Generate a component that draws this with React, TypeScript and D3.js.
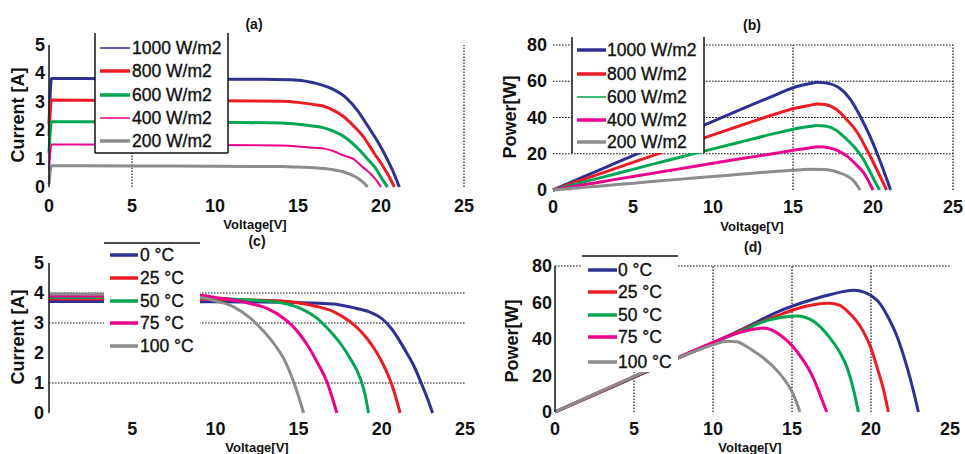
import React from "react";
import * as d3 from "d3";

type Pt = [number, number];

// ---------- labels / ticks ----------
const irradianceLabels = ["1000 W/m2", "800 W/m2", "600 W/m2", "400 W/m2", "200 W/m2"];
const temperatureLabels = ["0 °C", "25 °C", "50 °C", "75 °C", "100 °C"];
const seriesColors = ["#2e3192", "#ed1c24", "#00a651", "#ec008c", "#8c8c8c"];
const voltageTicks = [0, 5, 10, 15, 20, 25];
const voltageTicksC = [5, 10, 15, 20, 25];
const currentTicks = [0, 1, 2, 3, 4, 5];
const powerTicks = [0, 20, 40, 60, 80];

// ---------- (a) I-V vs irradiance : [V, A] ----------
const ivG1000: Pt[] = [[0, 2.2], [0.15, 3.82], [5, 3.81], [10, 3.8], [13, 3.79], [15, 3.76], [16, 3.66], [17, 3.47], [17.9, 3.14], [18.6, 2.68], [19.2, 2.15], [19.8, 1.6], [20.4, 0.95], [20.8, 0.45], [21.1, 0]];
const ivG800: Pt[] = [[0, 1.8], [0.15, 3.06], [5, 3.05], [10, 3.04], [14, 3.02], [15, 2.98], [16, 2.9], [16.5, 2.85], [17.2, 2.68], [17.7, 2.5], [18.4, 2.12], [18.9, 1.8], [19.6, 1.18], [20.1, 0.75], [20.5, 0.35], [20.8, 0]];
const ivG600: Pt[] = [[0, 1.2], [0.15, 2.3], [5, 2.29], [10, 2.28], [14, 2.25], [15, 2.21], [16, 2.14], [16.5, 2.09], [17.2, 1.95], [17.7, 1.8], [18.3, 1.53], [18.7, 1.3], [19.2, 0.98], [19.7, 0.64], [20.1, 0.25], [20.4, 0]];
const ivG400: Pt[] = [[0, 0.6], [0.15, 1.5], [5, 1.49], [10, 1.48], [14, 1.46], [15, 1.43], [16, 1.38], [16.5, 1.36], [17.2, 1.25], [17.7, 1.12], [18.35, 0.98], [18.9, 0.7], [19.4, 0.45], [19.7, 0.25], [20, 0]];
const ivG200: Pt[] = [[0, 0.1], [0.15, 0.75], [5, 0.74], [10, 0.73], [14, 0.72], [15, 0.7], [16, 0.68], [17, 0.62], [17.8, 0.52], [18.4, 0.38], [18.9, 0.18], [19.2, 0]];

// ---------- (b) P-V vs irradiance : [V, W] ----------
const pvG1000: Pt[] = [[0, 0], [2, 7.6], [4, 15.2], [6, 22.8], [8, 30.4], [10, 37.9], [12, 45.4], [14, 52.8], [15, 56.4], [16, 58.6], [16.5, 59.4], [17, 59.1], [17.9, 56.3], [18.6, 49.9], [19.2, 40.7], [19.8, 29.8], [20.4, 17], [21.1, 0]];
const pvG800: Pt[] = [[0, 0], [2, 6.1], [4, 12.2], [6, 18.3], [8, 24.3], [10, 30.4], [12, 36.4], [14, 42.2], [15, 44.8], [16, 46.6], [16.5, 47.5], [17, 47.2], [17.7, 44.5], [18.35, 38.9], [19, 32], [19.6, 22.5], [20.2, 12], [20.85, 0]];
const pvG600: Pt[] = [[0, 0], [2, 4.6], [4, 9.1], [6, 13.7], [8, 18.2], [10, 22.7], [12, 27.1], [14, 31.5], [15, 33.5], [16, 35], [16.5, 35.6], [17, 35.3], [17.7, 33], [18.35, 28], [18.9, 23], [19.4, 17], [19.9, 8.5], [20.4, 0]];
const pvG400: Pt[] = [[0, 0], [2, 3], [4, 6], [6, 8.9], [8, 11.8], [10, 14.8], [12, 17.6], [14, 20.4], [15, 21.9], [16, 23.2], [16.6, 23.8], [17.3, 23.2], [18.35, 18.8], [19, 13.5], [19.4, 9.7], [20, 0]];
const pvG200: Pt[] = [[0, 0], [2, 1.5], [4, 3], [6, 4.5], [8, 6], [10, 7.4], [12, 8.9], [14, 10.3], [15, 10.9], [16, 11.4], [17, 11.3], [17.8, 9.8], [18.35, 7.9], [18.8, 5], [19.2, 0]];

// ---------- (c) I-V vs temperature : [V, A] ----------
const ivT0: Pt[] = [[0, 3.72], [5, 3.72], [9, 3.71], [12, 3.7], [15, 3.68], [17.1, 3.63], [18.2, 3.52], [19.1, 3.4], [20.1, 3.1], [20.6, 2.8], [21.1, 2.38], [21.5, 2.0], [21.9, 1.6], [22.5, 0.82], [22.8, 0.4], [23.05, 0]];
const ivT25: Pt[] = [[0, 3.8], [5, 3.8], [9, 3.79], [12, 3.77], [14, 3.73], [15.1, 3.66], [16.1, 3.55], [17.1, 3.38], [18.1, 3.04], [18.6, 2.8], [19.1, 2.49], [19.6, 2.1], [20.1, 1.6], [20.5, 1.1], [20.8, 0.6], [21.1, 0]];
const ivT50: Pt[] = [[0, 3.85], [5, 3.85], [9, 3.84], [11, 3.8], [13, 3.73], [14.1, 3.66], [15.1, 3.49], [16.1, 3.16], [16.6, 2.9], [17.1, 2.6], [17.6, 2.25], [18.1, 1.82], [18.7, 1.16], [19.0, 0.6], [19.2, 0]];
const ivT75: Pt[] = [[0, 3.9], [5, 3.9], [9.2, 3.92], [10, 3.85], [11.1, 3.77], [12.1, 3.65], [13.1, 3.49], [14.1, 3.16], [14.6, 2.92], [15.1, 2.6], [15.6, 2.2], [16.1, 1.71], [16.7, 1.04], [17.0, 0.55], [17.3, 0]];
const ivT100: Pt[] = [[0, 3.97], [5, 3.96], [9.2, 3.84], [10.1, 3.72], [11.1, 3.54], [12.1, 3.16], [12.6, 2.9], [13.1, 2.6], [13.6, 2.25], [14.1, 1.82], [14.7, 1.04], [15.0, 0.55], [15.3, 0]];

// ---------- (d) P-V vs temperature : [V, W] ----------
const pvT0: Pt[] = [[0, 0], [2, 7.6], [4, 15.2], [6, 22.8], [8, 30.3], [10, 37.9], [12, 46], [14.2, 55.3], [16.35, 61.8], [17.5, 64.5], [18.9, 66.7], [19.6, 65.5], [20.6, 59], [21.2, 50], [21.6, 42.5], [22.3, 24], [22.7, 11], [23, 0]];
const pvT25: Pt[] = [[0, 0], [2, 7.6], [4, 15.2], [6, 22.8], [8, 30.3], [10, 37.9], [12, 45.5], [14, 52.5], [15.3, 56.6], [16.35, 58.8], [17.4, 59.6], [18, 58.5], [18.5, 55.3], [19.5, 44.3], [20, 35], [20.4, 24], [20.8, 12], [21.1, 0]];
const pvT50: Pt[] = [[0, 0], [2, 7.7], [4, 15.3], [6, 22.9], [8, 30.5], [10, 38], [12, 45], [13.2, 49.5], [14.2, 51.6], [15.3, 52.6], [16.35, 49.8], [17.4, 40.6], [18, 33], [18.5, 24], [18.9, 12], [19.2, 0]];
const pvT75: Pt[] = [[0, 0], [2, 7.8], [4, 15.5], [6, 23.2], [8, 30.8], [10, 38.2], [11, 41.6], [12.1, 44.5], [13.2, 46], [13.7, 45], [14.2, 42.5], [15.3, 33.3], [16.35, 18.6], [16.8, 9], [17.2, 0]];
const pvT100: Pt[] = [[0, 0], [2, 7.9], [4, 15.7], [6, 23.3], [8, 30.5], [9, 33.8], [10, 36.8], [10.9, 38.8], [11.5, 38.5], [12.1, 36], [12.6, 33.2], [13.2, 29.6], [14.2, 21.3], [14.7, 15.5], [15.0, 11.2], [15.3, 5], [15.5, 0]];

// ---------- layout ----------
const FONT = "'Liberation Sans', Arial, sans-serif";

type Panel = {
  title: string; titleX: number; titleY: number;
  ylabel: string; ylabelX: number; ylabelY: number;
  xlabelX: number; xlabelY: number;
  xRange: [number, number]; yRange: [number, number]; yMax: number;
  xTicks: number[]; yTicks: number[]; yTickDx: number; xTickY: number;
  series: Pt[][]; labels: string[]; widths: number[];
  axisLine: boolean;
  vGrid: number[]; hGrid: number[];
  legend: { x: number; y: number; w: number; h: number; borders: string[]; lx0: number; lx1: number; tx: number; rows: number[]; lw: number[] };
};

const panels: Panel[] = [
  {
    title: "(a)", titleX: 254, titleY: 29, ylabel: "Current [A]", ylabelX: 24, ylabelY: 115, xlabelX: 255, xlabelY: 229,
    xRange: [49, 464], yRange: [187, 45], yMax: 5, xTicks: voltageTicks, yTicks: currentTicks, yTickDx: 4, xTickY: 212,
    series: [ivG1000, ivG800, ivG600, ivG400, ivG200], labels: irradianceLabels, widths: [3, 3, 3, 2, 3],
    axisLine: true, vGrid: [5, 25], hGrid: [],
    legend: { x: 95, y: 33, w: 133, h: 120, borders: ["left", "right", "bottom"], lx0: 100, lx1: 130, tx: 132, rows: [48, 71, 95, 118, 141], lw: [1.5, 3.5, 3.5, 1.5, 3.5] },
  },
  {
    title: "(b)", titleX: 752, titleY: 30, ylabel: "Power[W]", ylabelX: 516, ylabelY: 117, xlabelX: 752, xlabelY: 231,
    xRange: [553, 953], yRange: [190, 45], yMax: 80, xTicks: voltageTicks, yTicks: powerTicks, yTickDx: 6, xTickY: 213,
    series: [pvG1000, pvG800, pvG600, pvG400, pvG200], labels: irradianceLabels, widths: [3, 3, 3, 3, 3],
    axisLine: false, vGrid: [15, 25], hGrid: [20, 40, 60, 80],
    legend: { x: 572, y: 37, w: 132, h: 116, borders: ["left", "right"], lx0: 577, lx1: 606, tx: 607, rows: [50, 74, 97, 120, 142], lw: [3.5, 3.5, 1.5, 3.5, 3.5] },
  },
  {
    title: "(c)", titleX: 257, titleY: 246, ylabel: "Current [A]", ylabelX: 24, ylabelY: 337, xlabelX: 257, xlabelY: 452,
    xRange: [49, 465], yRange: [413, 263], yMax: 5, xTicks: voltageTicksC, yTicks: currentTicks, yTickDx: 5, xTickY: 435,
    series: [ivT0, ivT25, ivT50, ivT75, ivT100], labels: temperatureLabels, widths: [3, 3, 3, 3, 3],
    axisLine: true, vGrid: [], hGrid: [1, 3, 4],
    legend: { x: 104, y: 243, w: 96, h: 129, borders: ["top"], lx0: 110, lx1: 138, tx: 140, rows: [255, 278, 301, 323, 346], lw: [3.5, 3.5, 3.5, 3.5, 3.5] },
  },
  {
    title: "(d)", titleX: 753, titleY: 252, ylabel: "Power[W]", ylabelX: 518, ylabelY: 341, xlabelX: 750, xlabelY: 452,
    xRange: [555, 950], yRange: [412, 266], yMax: 80, xTicks: voltageTicks, yTicks: powerTicks, yTickDx: 3, xTickY: 435,
    series: [pvT0, pvT25, pvT50, pvT75, pvT100], labels: temperatureLabels, widths: [3, 3, 3, 3, 3],
    axisLine: true, vGrid: [5, 10, 15, 20], hGrid: [80],
    legend: { x: 582, y: 256, w: 96, h: 116, borders: ["top"], lx0: 588, lx1: 617, tx: 618, rows: [270, 292, 315, 337, 362], lw: [3.5, 3.5, 3.5, 3.5, 3.5] },
  },
];

const DOT = "1.6,1.4";

function PanelView({ p }: { p: Panel }) {
  const x = d3.scaleLinear().domain([0, 25]).range(p.xRange);
  const y = d3.scaleLinear().domain([0, p.yMax]).range(p.yRange);
  const line = d3.line<Pt>().x((d) => x(d[0])).y((d) => y(d[1])).curve(d3.curveMonotoneX);
  const L = p.legend;
  return (
    <g>
      {p.hGrid.map((v) => (
        <line key={"h" + v} x1={x(0)} x2={x(25)} y1={y(v)} y2={y(v)} stroke="#111" strokeWidth={1.2} strokeDasharray={DOT} />
      ))}
      {p.vGrid.map((v) => (
        <line key={"v" + v} x1={x(v)} x2={x(v)} y1={y(0)} y2={y(p.yMax)} stroke="#111" strokeWidth={1.2} strokeDasharray={DOT} />
      ))}
      {p.series.map((s, i) => (
        <path key={"s" + i} d={line(s) || ""} fill="none" stroke={seriesColors[i]} strokeWidth={p.widths[i]} strokeLinejoin="round" />
      ))}
      {p.axisLine && <line x1={x(0)} x2={x(0)} y1={y(0)} y2={y(p.yMax)} stroke="#222" strokeWidth={1.6} />}
      <rect x={L.x} y={L.y} width={L.w} height={L.h} fill="#fff" />
      {L.borders.includes("left") && <line x1={L.x} x2={L.x} y1={L.y} y2={L.y + L.h} stroke="#111" strokeWidth={1.5} />}
      {L.borders.includes("right") && <line x1={L.x + L.w} x2={L.x + L.w} y1={L.y} y2={L.y + L.h} stroke="#111" strokeWidth={1.5} />}
      {L.borders.includes("bottom") && <line x1={L.x} x2={L.x + L.w} y1={L.y + L.h} y2={L.y + L.h} stroke="#111" strokeWidth={1.5} />}
      {L.borders.includes("top") && <line x1={L.x} x2={L.x + L.w} y1={L.y} y2={L.y} stroke="#111" strokeWidth={1.5} />}
      {p.labels.map((lab, i) => (
        <g key={"l" + i}>
          <line x1={L.lx0} x2={L.lx1} y1={L.rows[i]} y2={L.rows[i]} stroke={seriesColors[i]} strokeWidth={L.lw[i]} />
          <text x={L.tx} y={L.rows[i]} dominantBaseline="central" fontSize={17.5} fontFamily={FONT} fill="#111" stroke="#111" strokeWidth={0.35}>{lab}</text>
        </g>
      ))}
      {p.yTicks.map((t) => (
        <text key={"yt" + t} x={x(0) - p.yTickDx} y={y(t)} textAnchor="end" dominantBaseline="central" fontSize={18} fontWeight="bold" fontFamily={FONT} fill="#111">{t}</text>
      ))}
      {p.xTicks.map((t) => (
        <text key={"xt" + t} x={x(t)} y={p.xTickY} textAnchor="middle" fontSize={18} fontWeight="bold" fontFamily={FONT} fill="#111">{t}</text>
      ))}
      <text x={p.titleX} y={p.titleY} textAnchor="middle" fontSize={14} fontWeight="bold" fontFamily={FONT} fill="#111">{p.title}</text>
      <text x={p.xlabelX} y={p.xlabelY} textAnchor="middle" fontSize={13} fontWeight="bold" fontFamily={FONT} fill="#111">Voltage[V]</text>
      <text transform={`translate(${p.ylabelX},${p.ylabelY}) rotate(-90)`} textAnchor="middle" fontSize={18} fontWeight="bold" fontFamily={FONT} fill="#111">{p.ylabel}</text>
    </g>
  );
}

export default function App() {
  return (
    <svg width={965} height={454} viewBox="0 0 965 454" style={{ position: "absolute", left: 0, top: 0, background: "#fff" }}>
      <rect width={965} height={454} fill="#fff" />
      {panels.map((p) => (
        <PanelView key={p.title} p={p} />
      ))}
    </svg>
  );
}
